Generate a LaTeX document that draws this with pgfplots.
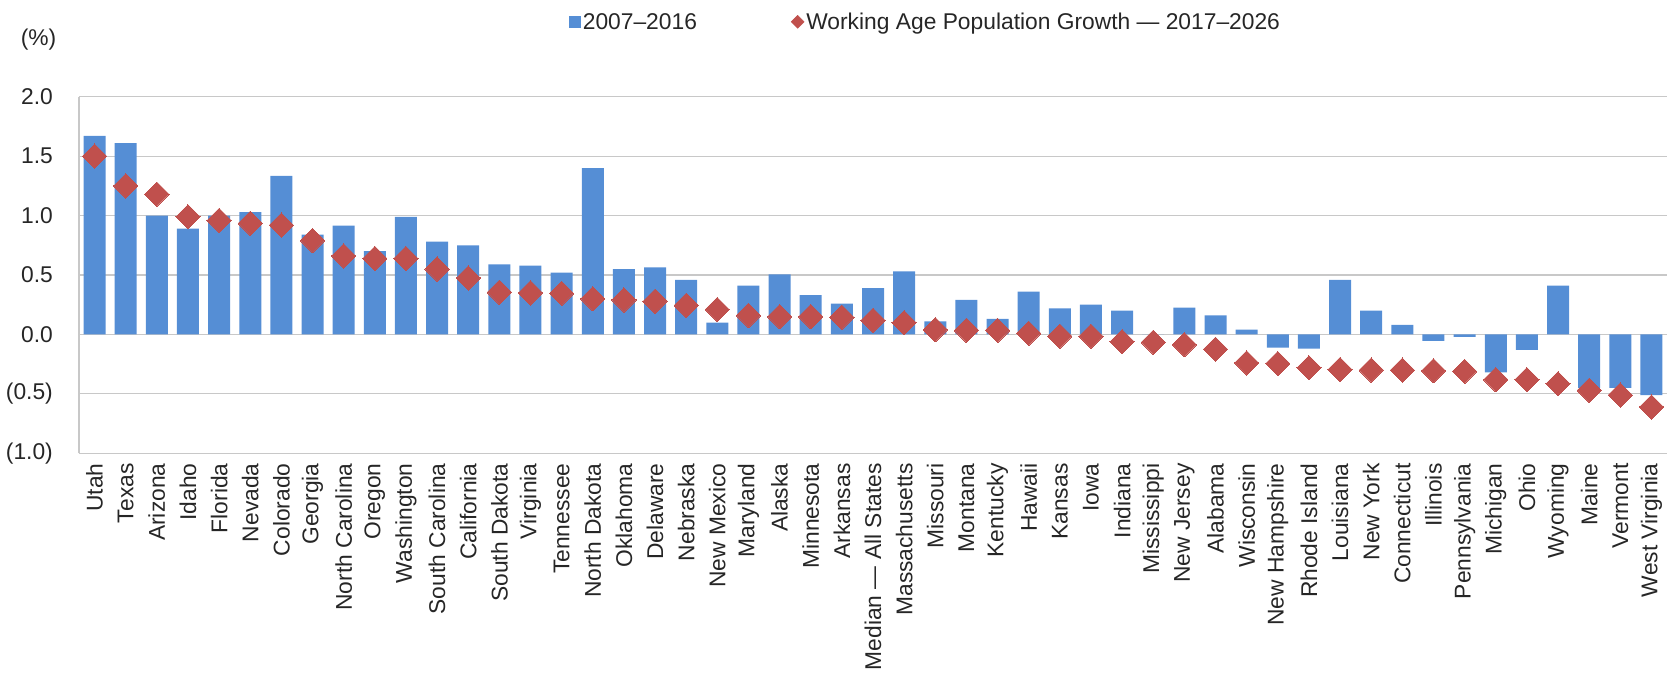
\documentclass[border=0pt]{standalone}
\usepackage{fontspec}
\setmainfont{Liberation Sans}
\usepackage{pgfplots}
\pgfplotsset{compat=1.18}
\definecolor{barblue}{RGB}{85,142,213}
\definecolor{dred}{RGB}{192,80,77}
\definecolor{gridgray}{RGB}{200,200,200}
\begin{document}
\begin{tikzpicture}
\begin{axis}[
  width=1588bp, height=356.6bp, scale only axis,
  clip=false,
  xmin=-0.5, xmax=50.5, ymin=-1, ymax=2,
  xtick={0,...,50},
  xticklabels={Utah,Texas,Arizona,Idaho,Florida,Nevada,Colorado,Georgia,North Carolina,Oregon,Washington,South Carolina,California,South Dakota,Virginia,Tennessee,North Dakota,Oklahoma,Delaware,Nebraska,New Mexico,Maryland,Alaska,Minnesota,Arkansas,Median — All States,Massachusetts,Missouri,Montana,Kentucky,Hawaii,Kansas,Iowa,Indiana,Mississippi,New Jersey,Alabama,Wisconsin,New Hampshire,Rhode Island,Louisiana,New York,Connecticut,Illinois,Pennsylvania,Michigan,Ohio,Wyoming,Maine,Vermont,West Virginia},
  ytick={-1,-0.5,0,0.5,1,1.5,2},
  yticklabels={(1.0),(0.5),0.0,0.5,1.0,1.5,2.0},
  /pgf/number format/assume math mode=true,
  major tick length=0pt,
  tick label style={font=\fontsize{22.8bp}{27bp}\selectfont, text=black!85},
  xticklabel style={rotate=90, anchor=east, inner sep=0pt},
  xticklabel shift=10bp,
  yticklabel style={anchor=east, inner sep=0pt},
  yticklabel shift=26bp,
  ymajorgrids, grid style={gridgray, line width=1.2bp},
  axis x line*=bottom, axis y line*=left,
  x axis line style={draw=none},
  y axis line style={gridgray, line width=1.2bp},
  legend columns=2,
  legend style={at={(0.533,1.21)}, anchor=center, draw=none, fill=none,
    font=\fontsize{22.8bp}{27bp}\selectfont, text=black!85, inner sep=0pt,
    /tikz/every even column/.append style={column sep=92bp}},
  legend cell align=left,
]
\addplot[ybar, bar width=22bp, fill=barblue, draw=none,
  legend image code/.code={\fill[barblue] (0bp,-6bp) rectangle (12bp,6bp);}]
coordinates {
(0,1.67) (1,1.61) (2,1.00) (3,0.89) (4,1.00) (5,1.03) (6,1.335) (7,0.84) (8,0.915) (9,0.70)
(10,0.99) (11,0.78) (12,0.75) (13,0.59) (14,0.58) (15,0.52) (16,1.40) (17,0.55) (18,0.565) (19,0.46)
(20,0.10) (21,0.41) (22,0.505) (23,0.33) (24,0.26) (25,0.39) (26,0.53) (27,0.11) (28,0.29) (29,0.13)
(30,0.36) (31,0.22) (32,0.25) (33,0.20) (34,0.0) (35,0.225) (36,0.16) (37,0.04) (38,-0.11) (39,-0.12)
(40,0.46) (41,0.20) (42,0.08) (43,-0.055) (44,-0.02) (45,-0.32) (46,-0.13) (47,0.41) (48,-0.45) (49,-0.45)
(50,-0.51)
};
\addlegendentry{2007–2016}
\addplot[color=dred, only marks, mark=square*, mark size=8.6bp, mark options={rotate=45, fill=dred, draw=dred, line width=0pt},
  legend image code/.code={\fill[dred] (6.5bp,-6.5bp) -- (13bp,0bp) -- (6.5bp,6.5bp) -- (0bp,0bp) -- cycle;}]
coordinates {
(0,1.50) (1,1.25) (2,1.18) (3,0.99) (4,0.96) (5,0.935) (6,0.92) (7,0.79) (8,0.66) (9,0.64)
(10,0.64) (11,0.55) (12,0.475) (13,0.355) (14,0.35) (15,0.345) (16,0.30) (17,0.29) (18,0.28) (19,0.245)
(20,0.21) (21,0.16) (22,0.15) (23,0.15) (24,0.145) (25,0.12) (26,0.10) (27,0.04) (28,0.035) (29,0.035)
(30,0.01) (31,-0.015) (32,-0.015) (33,-0.06) (34,-0.065) (35,-0.085) (36,-0.125) (37,-0.24) (38,-0.245) (39,-0.28)
(40,-0.295) (41,-0.30) (42,-0.30) (43,-0.305) (44,-0.31) (45,-0.38) (46,-0.38) (47,-0.415) (48,-0.47) (49,-0.51)
(50,-0.61)
};
\addlegendentry{Working Age Population Growth — 2017–2026}
\node[font=\fontsize{22.8bp}{27bp}\selectfont, text=black!85] at (rel axis cs:-0.0255,1.159) {(\%)};
\path (rel axis cs:-0.04975,1.2712) rectangle (rel axis cs:1.00504,-0.6217);
\end{axis}
\end{tikzpicture}
\end{document}
